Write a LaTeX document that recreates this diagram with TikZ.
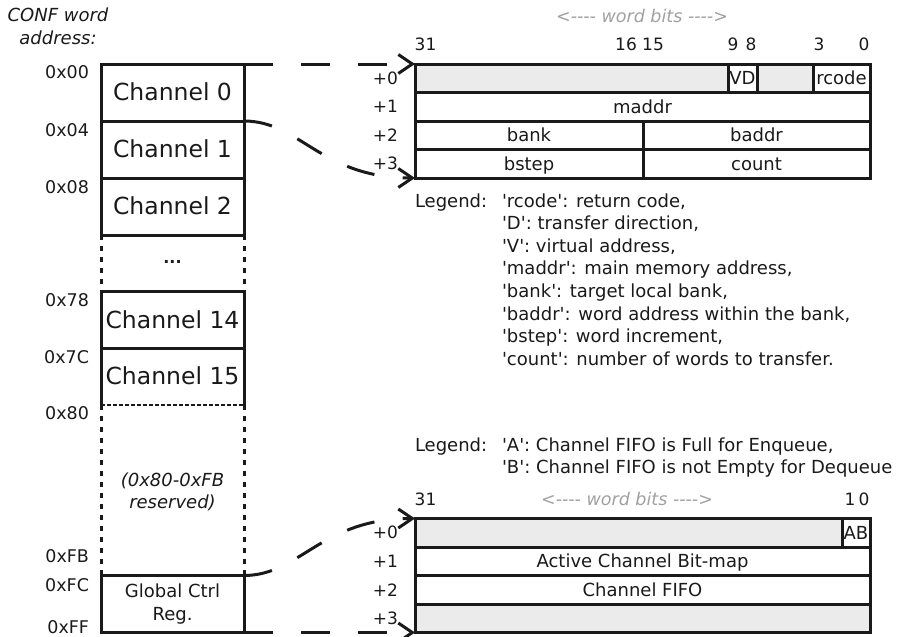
\documentclass[tikz,border=0pt]{standalone}
\usepackage{fontspec}
\setmainfont{DejaVu Sans}[Ligatures=TeXOff]
\usetikzlibrary{arrows.meta}
\definecolor{lc}{HTML}{1A1A1A}
\definecolor{gf}{HTML}{EBEBEB}
\definecolor{gt}{HTML}{A0A0A0}
\begin{document}
\begin{tikzpicture}[x=1pt,y=-1pt,
  every node/.style={inner sep=0pt, outer sep=0pt, text=lc},
  boxframe/.style={draw=lc, line width=3pt, minimum width=143pt, minimum height=57pt},
  box/.style={boxframe, text height=16.8pt, text depth=0pt, font=\fontsize{23.5}{27}\selectfont},
  fld/.style={draw=lc, line width=3pt, minimum height=28.5pt, text height=13pt, text depth=0pt,
    font=\fontsize{18}{22}\selectfont},
  greyfld/.style={fld, fill=gf},
  addr/.style={anchor=east, font=\fontsize{17.5}{21}\selectfont},
  offs/.style={anchor=east, font=\fontsize{17}{20}\selectfont},
  bitn/.style={anchor=base, font=\fontsize{17}{20}\selectfont},
  leg/.style={anchor=base west, font=\fontsize{18}{22}\selectfont},
  wbits/.style={anchor=base, text=gt, font=\fontsize{17.5}{21}\selectfont\itshape},
  dotl/.style={draw=lc, line width=3pt, dash pattern=on 5pt off 6pt},
  conn/.style={draw=lc, line width=3pt, dash pattern=on 28.5pt off 28.5pt,
    -{Straight Barb[length=14pt,width=19pt]}},
]
\useasboundingbox (0,0) rectangle (900,637);

% header
\node[align=center, font=\fontsize{18}{22.6}\selectfont\itshape] (conf) at (58,26) {CONF word\\address:};

% left column
\node[box] (ch0) at (172.5,92.5) {Channel 0};
\node[box] (ch1) at (172.5,149.5) {Channel 1};
\node[box] (ch2) at (172.5,206.5) {Channel 2};
\node[font=\fontsize{16}{20}\selectfont\bfseries] (dots) at (172.5,262) {...};
\node[box] (ch14) at (172.5,320) {Channel 14};
\node[box, draw=none] (ch15) at (172.5,376.5) {Channel 15};
\draw[lc, line width=3pt] (ch15.south west) -- (ch15.north west) -- (ch15.north east) -- (ch15.south east);
\draw[lc, line width=2pt, dash pattern=on 4pt off 2pt] (ch15.south west) -- (ch15.south east);
\node[align=center, font=\fontsize{18}{22}\selectfont\itshape] (res) at (172.5,492) {(0x80-0xFB\\reserved)};
\node[boxframe, align=center, font=\fontsize{18}{22.6}\selectfont] (glob) at (172.5,604) {Global Ctrl\\Reg.};
\draw[dotl] (ch2.south west) -- (ch14.north west);
\draw[dotl] (ch2.south east) -- (ch14.north east);
\draw[dotl] (ch15.south west) -- (glob.north west);
\draw[dotl] (ch15.south east) -- (glob.north east);

% addresses
\node[addr] (a00) at (89,72) {0x00};
\node[addr] (a04) at (89,130) {0x04};
\node[addr] (a08) at (89,187) {0x08};
\node[addr] (a78) at (89,300) {0x78};
\node[addr] (a7C) at (89,357) {0x7C};
\node[addr] (a80) at (89,413) {0x80};
\node[addr] (aFB) at (89,556) {0xFB};
\node[addr] (aFC) at (89,585) {0xFC};
\node[addr] (aFF) at (89,627) {0xFF};

% top register
\node[wbits] (wb1) at (642,22.5) {<---- word bits ---->};
\node[bitn] (t31) at (425.5,50) {31};
\node[bitn] (t16) at (626,50) {16};
\node[bitn] (t15) at (653,50) {15};
\node[bitn] (t9) at (733,50) {9};
\node[bitn] (t8) at (751,50) {8};
\node[bitn] (t3) at (819,50) {3};
\node[bitn] (t0) at (864,50) {0};

\node[greyfld, minimum width=313pt] (r0a) at (571.5,78.25) {};
\node[fld, minimum width=29pt] (r0v) at (742.5,78.25) {VD};
\node[greyfld, minimum width=56pt] (r0b) at (785,78.25) {};
\node[fld, minimum width=57pt] (r0c) at (841.5,78.25) {rcode};
\node[fld, minimum width=455pt] (r1) at (642.5,106.75) {maddr};
\node[fld, minimum width=228pt] (r2a) at (529,135.25) {bank};
\node[fld, minimum width=227pt] (r2b) at (756.5,135.25) {baddr};
\node[fld, minimum width=228pt] (r3a) at (529,163.75) {bstep};
\node[fld, minimum width=227pt] (r3b) at (756.5,163.75) {count};

\node[offs] (o0) at (398,78.25) {+0};
\node[offs] (o1) at (398,106.75) {+1};
\node[offs] (o2) at (398,135.25) {+2};
\node[offs] (o3) at (398,163.75) {+3};

% legend 1
\node[leg] (leg1) at (415,207) {Legend:};
\node[leg] (l1a) at (502,207) {'rcode': return code,};
\node[leg] (l1b) at (502,229.6) {'D': transfer direction,};
\node[leg] (l1c) at (502,252.2) {'V': virtual address,};
\node[leg] (l1d) at (502,274.8) {'maddr': main memory address,};
\node[leg] (l1e) at (502,297.4) {'bank': target local bank,};
\node[leg] (l1f) at (502,320) {'baddr': word address within the bank,};
\node[leg] (l1g) at (502,342.6) {'bstep': word increment,};
\node[leg] (l1h) at (502,365.2) {'count': number of words to transfer.};

% legend 2
\node[leg] (leg2) at (415,451) {Legend:};
\node[leg] (l2a) at (502,451) {'A': Channel FIFO is Full for Enqueue,};
\node[leg] (l2b) at (502,473.6) {'B': Channel FIFO is not Empty for Dequeue};

% bottom register
\node[wbits] (wb2) at (627,505.5) {<---- word bits ---->};
\node[bitn] (b31) at (425.5,505.5) {31};
\node[bitn] (b1) at (850,505.5) {1};
\node[bitn] (b0) at (864,505.5) {0};

\node[greyfld, minimum width=427pt] (g0a) at (628.5,532.75) {};
\node[fld, minimum width=28pt] (g0b) at (856,532.75) {AB};
\node[fld, minimum width=455pt] (g1) at (642.5,561.25) {Active Channel Bit-map};
\node[fld, minimum width=455pt] (g2) at (642.5,589.75) {Channel FIFO};
\node[greyfld, minimum width=455pt] (g3) at (642.5,618.25) {};

\node[offs] (p0) at (398,532.75) {+0};
\node[offs] (p1) at (398,561.25) {+1};
\node[offs] (p2) at (398,589.75) {+2};
\node[offs] (p3) at (398,618.25) {+3};

% connectors
\draw[conn] (ch0.north east) -- (r0a.north west);
\draw[conn] (ch1.north east) .. controls +(56,0) and +(-94,0) .. (r3a.south west);
\draw[conn] (glob.north east) .. controls +(56,0) and +(-94,0) .. (g0a.north west);
\draw[conn] (glob.south east) -- (g3.south west);
\end{tikzpicture}
\end{document}
